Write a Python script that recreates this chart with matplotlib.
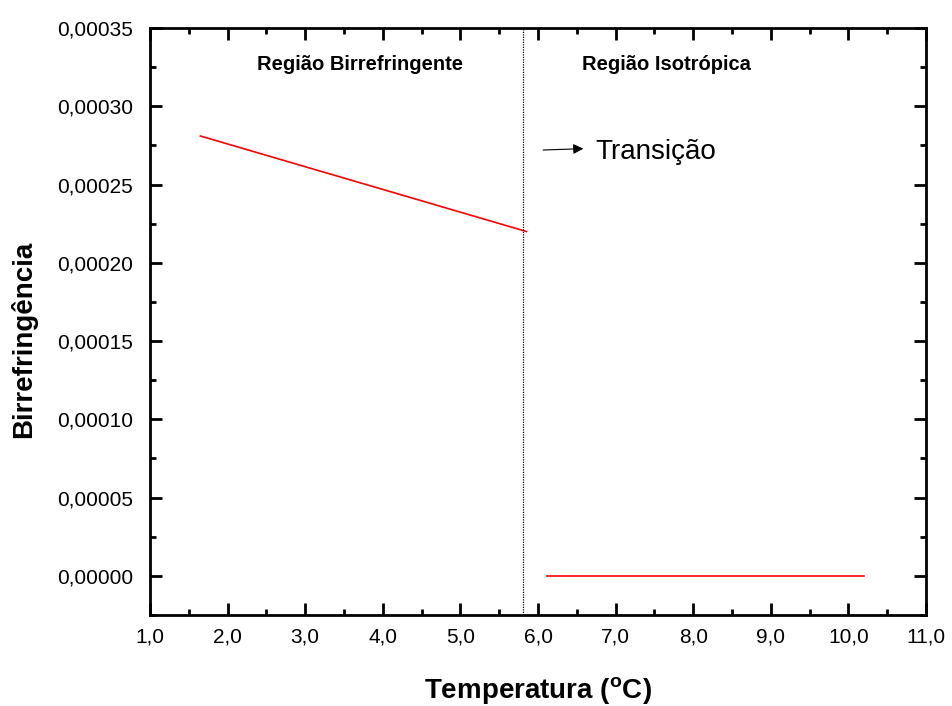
import matplotlib
matplotlib.use("Agg")
import matplotlib.pyplot as plt
from matplotlib.ticker import MultipleLocator, FuncFormatter

# Data
birr_temp = [1.65, 5.85]
birr_values = [0.000281, 0.000220]
iso_temp = [6.12, 10.2]
iso_values = [0.0, 0.0]
transition_temp = 5.8

x_label = "Temperatura ($^\\mathregular{o}$C)"
y_label = "Birrefringência"
region_labels = ["Região Birrefringente", "Região Isotrópica"]
transition_label = "Transição"

plt.rcParams['font.family'] = ['Liberation Sans', 'DejaVu Sans']

fig = plt.figure(figsize=(9.52, 7.06), dpi=100)
ax = fig.add_axes([0.1576, 0.1289, 0.8151, 0.8314])

ax.plot(birr_temp, birr_values, color='red', lw=1.2)
ax.plot(iso_temp, iso_values, color='red', lw=1.2)
ax.axvline(transition_temp, color='black', lw=0.9, ls=(0, (1, 1)))

ax.set_xlim(1.0, 11.0)
ax.set_ylim(-0.000025, 0.00035)
ax.xaxis.set_major_locator(MultipleLocator(1.0))
ax.xaxis.set_minor_locator(MultipleLocator(0.5))
ax.yaxis.set_major_locator(MultipleLocator(0.00005))
ax.yaxis.set_minor_locator(MultipleLocator(0.000025))
ax.xaxis.set_major_formatter(FuncFormatter(lambda v, p: f"{v:.1f}".replace('.', ',')))
ax.yaxis.set_major_formatter(FuncFormatter(lambda v, p: f"{v:.5f}".replace('.', ',')))

ax.tick_params(which='both', direction='in', top=True, right=True, width=2)
ax.tick_params(which='major', length=8.5, labelsize=15)
ax.tick_params(axis='y', which='major', pad=12)
ax.tick_params(axis='x', which='major', pad=9)
ax.tick_params(which='minor', length=4.5)
for s in ax.spines.values():
    s.set_linewidth(2)

ax.set_xlabel(x_label, fontsize=20, fontweight='bold', labelpad=21)
ax.set_ylabel(y_label, fontsize=20, fontweight='bold')
ax.yaxis.set_label_coords(-0.145, 0.47)

ax.text(3.71, 0.000327, region_labels[0], fontsize=14.5, fontweight='bold', ha='center', va='center')
ax.text(7.65, 0.000327, region_labels[1], fontsize=14.5, fontweight='bold', ha='center', va='center')

ax.annotate("", xy=(6.62, 0.000273), xytext=(6.03, 0.000272),
            arrowprops=dict(arrowstyle='-|>', color='black', lw=0.8, mutation_scale=15))
ax.text(6.74, 0.000271, transition_label, fontsize=20, ha='left', va='center')

fig.savefig("out.png", dpi=100)
